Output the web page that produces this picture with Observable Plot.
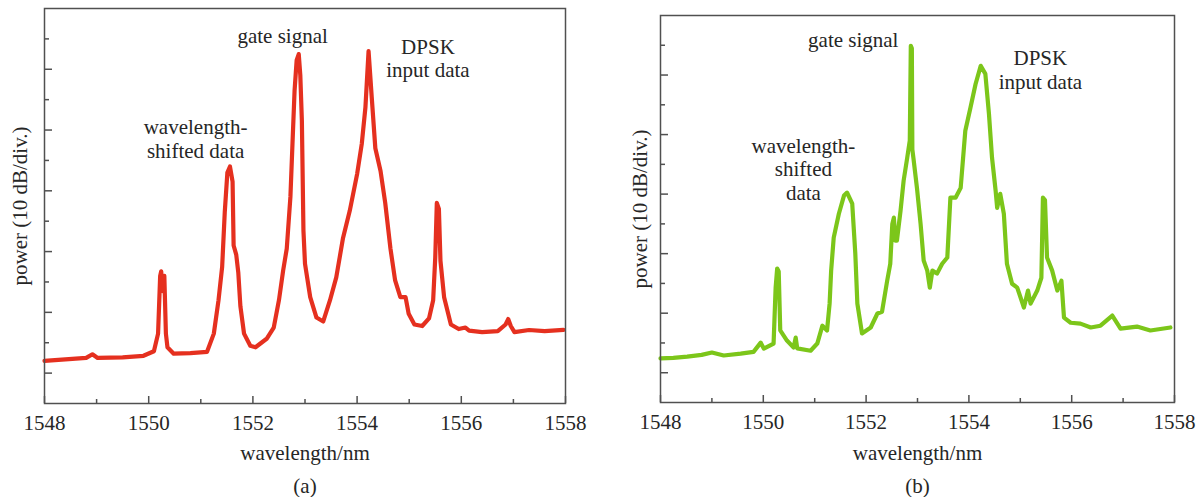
<!DOCTYPE html>
<html>
<head>
<meta charset="utf-8">
<script src="https://cdn.jsdelivr.net/npm/d3@7"></script>
<script src="https://cdn.jsdelivr.net/npm/@observablehq/plot@0.6"></script>
<style>
  html, body { margin: 0; padding: 0; background: #fff; }
  #wrap { position: relative; width: 1204px; height: 497px; overflow: hidden; }
  #wrap > svg, #wrap > figure { position: absolute; top: 0; margin: 0; }
</style>
</head>
<body>
<div id="wrap"></div>
<script>
// ---- data: panel (a) ----
const wavelengthA = [1548.00,1548.40,1548.80,1548.92,1549.02,1549.50,1549.90,1550.10,1550.18,1550.22,1550.24,1550.27,1550.30,1550.33,1550.36,1550.48,1550.80,1551.12,1551.25,1551.34,1551.41,1551.46,1551.51,1551.56,1551.61,1551.63,1551.68,1551.72,1551.76,1551.83,1551.95,1552.05,1552.27,1552.40,1552.50,1552.58,1552.65,1552.72,1552.77,1552.80,1552.84,1552.88,1552.91,1552.94,1552.97,1553.00,1553.10,1553.22,1553.35,1553.48,1553.60,1553.73,1553.86,1554.00,1554.09,1554.16,1554.22,1554.28,1554.35,1554.45,1554.54,1554.64,1554.73,1554.83,1554.93,1554.99,1555.10,1555.25,1555.38,1555.46,1555.50,1555.53,1555.57,1555.60,1555.67,1555.80,1555.95,1556.08,1556.15,1556.40,1556.70,1556.85,1556.90,1556.95,1557.02,1557.30,1557.60,1557.96];
const powerA      = [1.40,1.45,1.50,1.62,1.50,1.52,1.57,1.72,2.30,4.20,4.35,3.70,4.20,2.30,1.85,1.64,1.66,1.70,2.30,3.40,4.50,6.30,7.60,7.80,7.30,5.20,4.90,4.30,3.20,2.30,1.90,1.85,2.14,2.50,3.40,4.37,5.10,6.80,9.00,10.30,11.30,11.50,10.80,9.30,5.70,4.60,3.50,2.83,2.70,3.40,4.15,5.45,6.35,7.55,8.55,9.75,11.60,10.10,8.40,7.65,6.60,5.10,4.05,3.50,3.50,2.95,2.60,2.55,2.80,3.40,4.80,6.60,6.40,4.70,3.50,2.60,2.45,2.50,2.40,2.35,2.38,2.60,2.78,2.55,2.35,2.42,2.38,2.42];

// ---- data: panel (b) ----
const wavelengthB = [1548.00,1548.25,1548.52,1548.80,1549.00,1549.23,1549.56,1549.81,1549.95,1550.01,1550.20,1550.24,1550.27,1550.30,1550.33,1550.46,1550.59,1550.63,1550.66,1550.92,1551.05,1551.15,1551.24,1551.29,1551.32,1551.37,1551.47,1551.57,1551.63,1551.73,1551.79,1551.83,1551.92,1552.09,1552.22,1552.31,1552.41,1552.47,1552.51,1552.54,1552.57,1552.60,1552.67,1552.73,1552.80,1552.85,1552.87,1552.89,1552.90,1552.92,1552.99,1553.06,1553.12,1553.19,1553.24,1553.29,1553.38,1553.48,1553.58,1553.64,1553.74,1553.84,1553.93,1554.03,1554.13,1554.23,1554.32,1554.39,1554.45,1554.52,1554.55,1554.61,1554.68,1554.74,1554.84,1554.94,1555.07,1555.15,1555.20,1555.33,1555.41,1555.44,1555.48,1555.52,1555.62,1555.72,1555.80,1555.85,1555.98,1556.17,1556.37,1556.56,1556.79,1556.95,1557.27,1557.53,1557.92];
const powerB      = [1.48,1.50,1.54,1.60,1.68,1.58,1.64,1.70,2.01,1.81,1.98,3.86,4.50,4.40,2.42,2.08,1.85,2.18,1.82,1.74,1.98,2.58,2.42,3.32,4.43,5.54,6.34,6.95,7.05,6.68,5.00,3.32,2.32,2.52,2.99,3.05,4.09,4.66,6.00,6.21,5.44,5.44,6.44,7.45,8.22,8.80,11.98,11.90,8.50,8.22,7.20,6.00,4.77,4.43,3.86,4.43,4.33,4.66,4.87,6.88,6.88,7.21,9.13,9.90,10.70,11.31,11.04,9.70,8.22,7.11,6.54,7.01,6.34,4.66,3.99,3.86,3.19,3.76,3.32,3.76,4.19,6.88,6.80,4.87,4.43,3.76,4.09,2.85,2.68,2.65,2.52,2.58,2.92,2.48,2.55,2.42,2.52];

// ---- ticks ----
const xMajorTicks = [1548, 1550, 1552, 1554, 1556, 1558];
const xMinorTicks = [1549, 1551, 1553, 1555, 1557];
const yLongTicks  = [1, 3, 5, 7, 9, 11];
const yShortTicks = [2, 4, 6, 8, 10, 12];

// ---- labels / annotations ----
const xLabel = "wavelength/nm";
const yLabel = "power (10 dB/div.)";
const annotTextA = ["gate signal", "wavelength-\nshifted data", "DPSK\ninput data"];
const annotXA    = [1552.57, 1550.90, 1555.36];
const annotYA    = [12.1, 8.73, 11.37];
const annotTextB = ["gate signal", "wavelength-\nshifted\ndata", "DPSK\ninput data"];
const annotXB    = [1551.75, 1550.78, 1555.39];
const annotYB    = [12.2, 7.85, 11.19];

function panel(cfg) {
  const data = cfg.w.map((w, i) => ({w, p: cfg.p[i]}));
  const annots = cfg.at.map((t, i) => ({t, x: cfg.ax[i], y: cfg.ay[i]}));
  const ink = "#262626";
  return Plot.plot({
    width: 602,
    height: 497,
    marginLeft: cfg.ml, marginRight: cfg.mr, marginTop: cfg.mt, marginBottom: cfg.mb,
    x: {domain: [1548, 1558], axis: null},
    y: {domain: [0, 13], axis: null},
    style: {fontFamily: "'Liberation Serif', 'Times New Roman', serif", fontSize: "21px", color: ink, background: "transparent"},
    marks: [
      Plot.line(data, {x: "w", y: "p", stroke: cfg.color, strokeWidth: 4.2, strokeLinejoin: "round", strokeLinecap: "round"}),
      Plot.frame({stroke: "#505050", strokeWidth: 1.5}),
      Plot.axisX(xMajorTicks, {anchor: "bottom", tickSize: -7, tickPadding: 19, label: null, tickFormat: d => String(d), stroke: "#505050", strokeWidth: 1.5}),
      Plot.axisX(xMinorTicks, {anchor: "bottom", tickSize: -4, label: null, tickFormat: () => "", stroke: "#505050", strokeWidth: 1.5}),
      Plot.axisY(yLongTicks, {anchor: "left", tickSize: -8, label: null, tickFormat: () => "", stroke: "#505050", strokeWidth: 1.5}),
      Plot.axisY(yShortTicks, {anchor: "left", tickSize: -5, label: null, tickFormat: () => "", stroke: "#505050", strokeWidth: 1.5}),
      Plot.text(annots, {x: "x", y: "y", text: "t", lineHeight: cfg.lh, fill: ink}),
      Plot.text([xLabel], {frameAnchor: "bottom", lineAnchor: "middle", textAnchor: "middle", dy: cfg.xlDy, fill: ink}),
      Plot.text([yLabel], {frameAnchor: "left", lineAnchor: "middle", textAnchor: "middle", dx: cfg.ylDx, rotate: -90, fill: ink}),
      Plot.text([cfg.caption], {frameAnchor: "bottom", lineAnchor: "middle", textAnchor: "middle", dy: cfg.capDy, fill: ink})
    ]
  });
}

const wrap = document.getElementById("wrap");
const a = panel({w: wavelengthA, p: powerA, color: "#e5301f", at: annotTextA, ax: annotXA, ay: annotYA, lh: 1.12,
  ml: 44, mr: 37, mt: 8, mb: 94, xlDy: 50, ylDx: -24, capDy: 83, caption: "(a)"});
a.style.left = "0px";
wrap.appendChild(a);
const b = panel({w: wavelengthB, p: powerB, color: "#7cc61a", at: annotTextB, ax: annotXB, ay: annotYB, lh: 1.12,
  ml: 58, mr: 30, mt: 15, mb: 95, xlDy: 51, ylDx: -20, capDy: 84, caption: "(b)"});
b.style.left = "602px";
wrap.appendChild(b);
</script>
</body>
</html>
